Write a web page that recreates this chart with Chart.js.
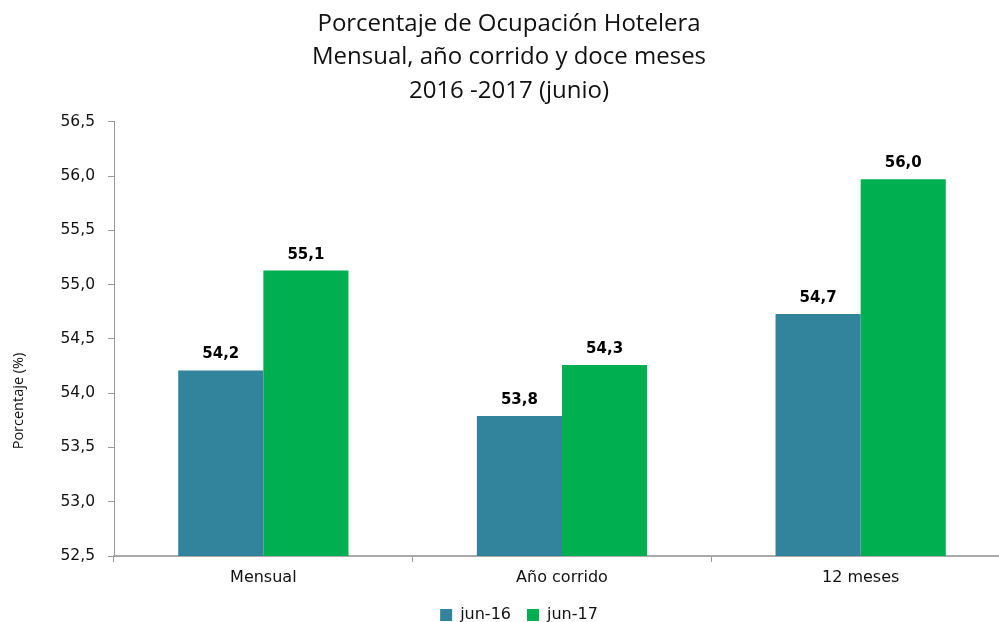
<!DOCTYPE html>
<html>
<head>
<meta charset="utf-8">
<script src="https://cdn.jsdelivr.net/npm/chart.js@4.4.1/dist/chart.umd.min.js"></script>
<style>
  html, body { margin: 0; padding: 0; background: #fff; overflow: hidden; }
  #wrap { width: 1010px; height: 622px; position: relative; }
</style>
</head>
<body>
<div id="wrap"><canvas id="c" width="1010" height="622"></canvas></div>
<script>
const categories = ["Mensual", "Año corrido", "12 meses"];
const seriesNames = ["jun-16", "jun-17"];
const jun16 = [54.21, 53.79, 54.73];
const jun17 = [55.13, 54.26, 55.97];
const titleLines = ["Porcentaje de Ocupación Hotelera", "Mensual, año corrido y doce meses", "2016 -2017 (junio)"];
const yAxisTitle = "Porcentaje (%)";

const fmt = v => v.toFixed(1).replace('.', ',');

const extras = {
  id: 'extras',
  beforeDraw(chart) {
    if (!chart.$shifted) {
      if (chart.legend) { chart.legend.left += 14; chart.legend.right += 14; }
      if (chart.titleBlock) { chart.titleBlock.left += 4; chart.titleBlock.right += 4; }
      chart.$shifted = true;
    }
  },
  afterDraw(chart) {
    const ctx = chart.ctx;
    ctx.save();
    ctx.font = '14.5px "Open Sans"';
    ctx.fillStyle = '#111';
    ctx.textAlign = 'center';
    ctx.textBaseline = 'middle';
    ctx.translate(19, 401);
    ctx.rotate(-Math.PI / 2);
    ctx.fillText(yAxisTitle, 0, 0);
    ctx.restore();
  },
  afterDatasetsDraw(chart) {
    const ctx = chart.ctx;
    ctx.save();
    ctx.font = 'bold 15px "DejaVu Sans"';
    ctx.fillStyle = '#000';
    ctx.textAlign = 'center';
    ctx.textBaseline = 'alphabetic';
    chart.data.datasets.forEach((ds, i) => {
      chart.getDatasetMeta(i).data.forEach((bar, j) => {
        ctx.fillText(fmt(ds.data[j]), bar.x, bar.y - 12);
      });
    });
    ctx.restore();
  }
};

new Chart(document.getElementById('c'), {
  type: 'bar',
  data: {
    labels: categories,
    datasets: [
      { label: seriesNames[0], data: jun16, backgroundColor: '#31849B', borderWidth: 0 },
      { label: seriesNames[1], data: jun17, backgroundColor: '#00B050', borderWidth: 0 }
    ]
  },
  options: {
    responsive: false,
    animation: false,
    devicePixelRatio: 1,
    layout: { padding: { left: 0, right: 0, top: 0, bottom: -11 } },
    plugins: {
      title: {
        display: true,
        text: titleLines,
        color: '#111',
        font: { family: '"Open Sans"', size: 24, weight: 'normal', lineHeight: 1.4 },
        padding: { top: 7, bottom: 14 }
      },
      legend: {
        position: 'bottom',
        labels: {
          color: '#111',
          font: { family: '"DejaVu Sans"', size: 16 },
          boxWidth: 12,
          boxHeight: 12,
          padding: 16
        }
      },
      tooltip: { enabled: false }
    },
    datasets: { bar: { categoryPercentage: 0.57, barPercentage: 1.0 } },
    scales: {
      x: {
        grid: { display: true, drawOnChartArea: false, offset: true, tickLength: 6, color: '#999' },
        border: { display: true, color: '#aaa', width: 2 },
        ticks: { color: '#111', font: { family: '"DejaVu Sans"', size: 16 }, padding: 6 },
        afterFit(s) { s.height = 35; }
      },
      y: {
        min: 52.5,
        max: 56.5,
        grid: { display: true, drawOnChartArea: false, tickLength: 6, color: '#999' },
        border: { display: true, color: '#999', width: 1 },
        ticks: {
          stepSize: 0.5,
          color: '#111',
          font: { family: '"DejaVu Sans"', size: 15.5 },
          padding: 13,
          callback: v => fmt(v)
        },
        title: { display: false },
        afterFit(s) { s.width = 114; }
      }
    }
  },
  plugins: [extras]
});
</script>
</body>
</html>
